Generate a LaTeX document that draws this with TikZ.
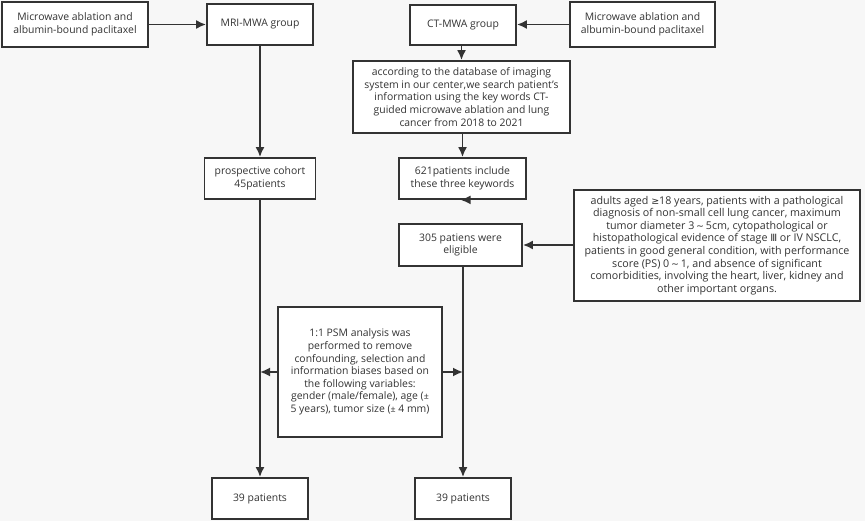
\documentclass[tikz,border=0pt]{standalone}
\usepackage{fontspec}
\setmainfont{Open Sans}
\newfontfamily\symf{DejaVu Sans}
\usetikzlibrary{arrows.meta}
\definecolor{bg}{HTML}{F7F7F7}
\definecolor{ink}{HTML}{333333}
\newcommand{\tld}{\,{\symf\fontsize{9.5}{9.5}\selectfont\char"007E}\,}
\tikzset{
  box/.style={draw=ink, line width=1.8pt, fill=white, text=ink, align=center, inner sep=0pt,
    font=\fontsize{10.4}{12.6}\selectfont},
  conn/.style={draw=ink, line width=1.8pt, -{Latex[length=10pt,width=9pt]}}
}
\begin{document}
\begin{tikzpicture}[x=1pt,y=-1pt]
\fill[bg] (0,0) rectangle (865,521);
\useasboundingbox (0,0) rectangle (865,521);
\node[box, minimum width=146pt, minimum height=45pt] (mwaL) at (75,24.5) {Microwave ablation and\\albumin-bound paclitaxel};
\node[box, minimum width=106pt, minimum height=41pt] (mri) at (260,24.5) {MRI-MWA group};
\node[box, minimum width=111pt, minimum height=41pt] (pc) at (260,178.5) {prospective cohort\\45patients};
\node[box, minimum width=106pt, minimum height=40pt] (ct) at (463,25) {CT-MWA group};
\node[box, minimum width=145pt, minimum height=45pt] (mwaR) at (642.5,24.5) {Microwave ablation and\\albumin-bound paclitaxel};
\node[box, minimum width=217pt, minimum height=72pt] (db) at (461.5,97) {according to the database of imaging\\system in our center,we search patient's\\information using the key words CT-\\guided microwave ablation and lung\\cancer from 2018 to 2021};
\node[box, minimum width=127pt, minimum height=41pt] (k621) at (462.5,178.5) {621patients include\\these three keywords};
\node[box, minimum width=123pt, minimum height=42pt] (e305) at (460.5,245) {305 patiens were\\eligible};
\node[box, minimum width=286pt, minimum height=111pt, font=\fontsize{10.7}{12.6}\selectfont] (crit) at (717,245.5) {adults aged {\symf\fontsize{9.5}{9.5}\selectfont ≥}18 years, patients with a pathological\\diagnosis of non-small cell lung cancer, maximum\\tumor diameter 3\tld 5cm, cytopathological or\\histopathological evidence of stage {\symf\fontsize{10}{10}\selectfont Ⅲ} or IV NSCLC,\\patients in good general condition, with performance\\score (PS) 0\tld 1, and absence of significant\\comorbidities, involving the heart, liver, kidney and\\other important organs.};
\node[box, minimum width=164pt, minimum height=130pt] (psm) at (360,372) {1:1 PSM analysis was\\performed to remove\\confounding, selection and\\information biases based on\\the following variables:\\gender (male/female), age ({\scalebox{0.85}{±}}\\5 years), tumor size ({\scalebox{0.85}{±}} 4 mm)};
\node[box, minimum width=96pt, minimum height=41pt] (p39L) at (260,498.5) {39 patients};
\node[box, minimum width=96pt, minimum height=41pt] (p39R) at (463,498.5) {39 patients};
\draw[conn] (mwaL.east) -- (mwaL.east -| mri.west);
\draw[conn] (mwaR.west) -- (mwaR.west -| ct.east);
\draw[conn] (mri.south) -- (pc.north);
\draw[conn] (ct.south -| db.north) -- (db.north);
\draw[conn] (db.south -| k621.north) -- (k621.north);
\draw[conn] (k621.south) -- (k621.south -| e305.north);
\draw[conn] (crit.west |- e305.east) -- (e305.east);
\draw[conn] (pc.south) -- (p39L.north);
\draw[conn] (e305.south -| p39R.north) -- (p39R.north);
\draw[conn] (psm.west) -- (psm.west -| pc.south);
\draw[conn] (psm.east) -- (psm.east -| p39R.north);
\end{tikzpicture}
\end{document}
